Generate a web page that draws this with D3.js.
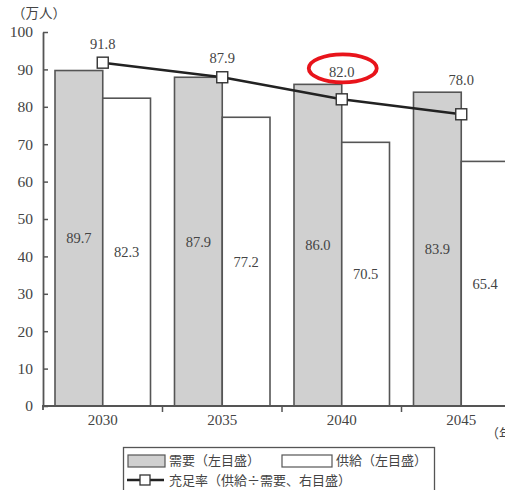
<!DOCTYPE html>
<html><head><meta charset="utf-8">
<script src="https://cdn.jsdelivr.net/npm/d3@7"></script>
<style>body{margin:0;background:#fff}svg{display:block}
.serif{font-family:"Liberation Serif","Times New Roman","DejaVu Serif","Noto Serif",serif}
.cjk{font-family:"Noto Sans CJK JP","Noto Sans CJK SC",sans-serif}
</style>
</head><body>
<svg id="c" width="505" height="490"></svg>
<script>
const categories = ["2030", "2035", "2040", "2045"];
const demand = [89.7, 87.9, 86.0, 83.9];
const supply = [82.3, 77.2, 70.5, 65.4];
const ratio = [91.8, 87.9, 82.0, 78.0];
const yTicks = [0,10,20,30,40,50,60,70,80,90,100];
const seriesNames = ["需要（左目盛）", "供給（左目盛）", "充足率（供給÷需要、右目盛）"];
const highlight = "2040";

const svg = d3.select("#c");
const textCol = "#444", axisCol = "#555";

const x = d3.scaleBand().domain(categories).range([43, 521]).padding(0);
const sub = d3.scaleBand().domain(["demand","supply"]).range([12, 107.5]).padding(0);
const y = d3.scaleLinear().domain([0,100]).range([406, 32]);
const yR = d3.scaleLinear().domain([0,100]).range([406, 32]);

// bars
const g = svg.append("g");
categories.forEach((c,i)=>{
  const pairs = [["demand", demand[i], "#d0d0d0"], ["supply", supply[i], "#fff"]];
  pairs.forEach(([k,v,fill])=>{
    const bx = x(c)+sub(k);
    g.append("rect").attr("x",bx).attr("y",y(v)).attr("width",sub.bandwidth()).attr("height",y(0)-y(v))
      .attr("fill",fill).attr("stroke","#555").attr("stroke-width",1.6);
    g.append("text").attr("class","serif").attr("x",bx+sub.bandwidth()/2).attr("y",(y(v)+y(0))/2+5)
      .attr("text-anchor","middle").style("font-size","14.5px")
      .attr("fill",textCol).text(v.toFixed(1));
  });
});

// y axis
const ya = svg.append("g").attr("transform","translate(43,0)")
  .call(d3.axisLeft(y).tickValues(yTicks).tickSizeInner(-5).tickSizeOuter(0).tickPadding(10));
ya.attr("font-family",null).attr("font-size",null);
ya.select(".domain").attr("stroke",axisCol).attr("stroke-width",1.8);
ya.selectAll(".tick line").attr("stroke",axisCol).attr("stroke-width",1.5);
ya.selectAll("text").attr("class","serif").style("font-size","15.5px").attr("fill",textCol);
svg.append("line").attr("x1",43).attr("x2",43).attr("y1",y(0)).attr("y2",y(0)+4).attr("stroke",axisCol).attr("stroke-width",1.8);

// x axis
svg.append("line").attr("x1",42).attr("x2",521).attr("y1",y(0)).attr("y2",y(0)).attr("stroke",axisCol).attr("stroke-width",1.8);
categories.forEach((c,i)=>{
  if(i>0) svg.append("line").attr("x1",x(c)).attr("x2",x(c)).attr("y1",y(0)).attr("y2",y(0)+6).attr("stroke",axisCol).attr("stroke-width",1.5);
  svg.append("text").attr("class","serif").attr("x",x(c)+x.bandwidth()/2).attr("y",425).attr("text-anchor","middle")
    .style("font-size","15px").attr("fill",textCol).text(c);
});
svg.append("text").attr("class","cjk").attr("x",486).attr("y",438).style("font-size","13px").attr("fill",textCol).text("（年）");
svg.append("text").attr("class","cjk").attr("x",12).attr("y",18).style("font-size","13.5px").attr("fill",textCol).text("（万人）");

// line
const px = c => x(c)+sub("supply");
const line = d3.line().x((d,i)=>px(categories[i])).y(d=>yR(d));
svg.append("path").datum(ratio).attr("d",line).attr("fill","none").attr("stroke","#222").attr("stroke-width",2.6);
const labelY = i => (yR(ratio[i]) <= y(demand[i]) + 0.5) ? yR(ratio[i]) - 19 : y(demand[i]) - 12;
ratio.forEach((v,i)=>{
  const c = categories[i];
  svg.append("rect").attr("x",px(c)-5.5).attr("y",yR(v)-5.5).attr("width",11).attr("height",11)
    .attr("fill","#fff").attr("stroke","#333").attr("stroke-width",1.4);
  svg.append("text").attr("class","serif").attr("x",px(c)).attr("y",labelY(i)+5).attr("text-anchor","middle")
    .style("font-size","14.5px").attr("fill",textCol).text(v.toFixed(1));
});
// highlight ellipse
const hi = categories.indexOf(highlight);
svg.append("ellipse").attr("cx",px(highlight)+1).attr("cy",labelY(hi)-4)
  .attr("rx",34).attr("ry",14).attr("fill","none").attr("stroke","#e8141b").attr("stroke-width",3.8);

// legend
const lg = svg.append("g");
lg.append("rect").attr("x",123.5).attr("y",447.5).attr("width",311).attr("height",60).attr("fill","#fff").attr("stroke","#555").attr("stroke-width",1.3);
lg.append("rect").attr("x",128).attr("y",455).attr("width",37).attr("height",12).attr("fill","#d0d0d0").attr("stroke","#555").attr("stroke-width",1.2);
lg.append("text").attr("class","cjk").attr("x",169).attr("y",465).style("font-size","13px").attr("fill",textCol).text(seriesNames[0]);
lg.append("rect").attr("x",282).attr("y",455).attr("width",50).attr("height",12).attr("fill","#fff").attr("stroke","#555").attr("stroke-width",1.2);
lg.append("text").attr("class","cjk").attr("x",336).attr("y",465).style("font-size","13px").attr("fill",textCol).text(seriesNames[1]);
lg.append("line").attr("x1",127).attr("x2",164).attr("y1",480).attr("y2",480).attr("stroke","#222").attr("stroke-width",2.6);
lg.append("rect").attr("x",140).attr("y",475).attr("width",10).attr("height",10).attr("fill","#fff").attr("stroke","#333").attr("stroke-width",1.3);
lg.append("text").attr("class","cjk").attr("x",169).attr("y",485).style("font-size","13px").attr("fill",textCol).text(seriesNames[2]);
</script>
</body></html>
